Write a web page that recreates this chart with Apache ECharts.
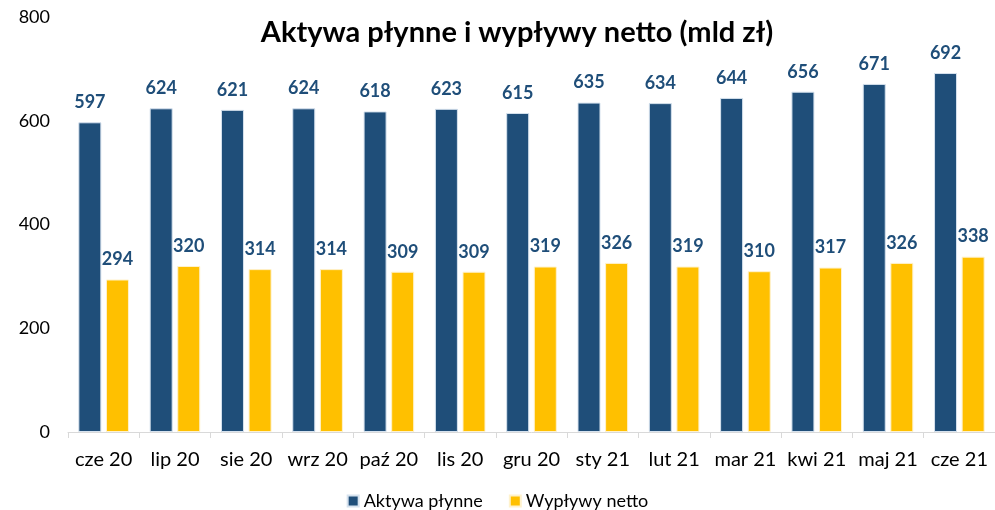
<!DOCTYPE html>
<html>
<head>
<meta charset="utf-8">
<script src="https://cdn.jsdelivr.net/npm/echarts@6/dist/echarts.min.js"></script>
<style>
  html, body { margin: 0; padding: 0; background: #fff; }
  #chart { width: 995px; height: 510px; }
</style>
</head>
<body>
<div id="chart"></div>
<script>
// Monthly liquid assets vs. net outflows, bn PLN
const months = ['cze 20', 'lip 20', 'sie 20', 'wrz 20', 'paź 20', 'lis 20', 'gru 20',
                'sty 21', 'lut 21', 'mar 21', 'kwi 21', 'maj 21', 'cze 21'];
const liquidAssets = [597, 624, 621, 624, 618, 623, 615, 635, 634, 644, 656, 671, 692];
const netOutflows = [294, 320, 314, 314, 309, 309, 319, 326, 319, 310, 317, 326, 338];
const seriesNames = ['Aktywa płynne', 'Wypływy netto'];
const titleText = 'Aktywa płynne i wypływy netto (mld zł)';

const FONT = 'Lato, "Open Sans", sans-serif';
const labelStyle = {
  show: true,
  position: 'top',
  distance: 11,
  color: '#1F4E79',
  fontWeight: 'bold',
  fontSize: 18,
  fontFamily: FONT
};

const chart = echarts.init(document.getElementById('chart'), null, { renderer: 'canvas' });
chart.setOption({
  animation: false,
  textStyle: { fontFamily: FONT },
  title: {
    text: titleText,
    left: 512,
    textAlign: 'center',
    top: 13,
    textStyle: { fontSize: 29, fontWeight: 'bold', color: '#000', fontFamily: FONT }
  },
  legend: {
    bottom: -5,
    left: 'center',
    itemWidth: 11,
    itemHeight: 11,
    itemGap: 26,
    icon: 'rect',
    textStyle: { fontSize: 18, color: '#000', fontFamily: FONT },
    data: seriesNames
  },
  grid: { left: 68, right: -2, top: 17, bottom: 78, containLabel: false },
  xAxis: {
    type: 'category',
    data: months,
    axisLine: { lineStyle: { color: '#D9D9D9', width: 1 } },
    axisTick: { show: true, length: 6, lineStyle: { color: '#D9D9D9' } },
    axisLabel: { interval: 0, fontSize: 20, color: '#000', margin: 18, fontFamily: FONT }
  },
  yAxis: {
    type: 'value',
    min: 0,
    max: 800,
    interval: 200,
    axisLine: { show: false },
    axisTick: { show: false },
    splitLine: { show: false },
    axisLabel: { fontSize: 18, color: '#000', margin: 18, fontFamily: FONT }
  },
  series: [
    {
      name: seriesNames[0],
      type: 'bar',
      data: liquidAssets,
      barWidth: 23,
      barGap: '20%',
      itemStyle: { color: '#1F4E79', borderColor: '#D6E2EE', borderWidth: 1 },
      label: labelStyle
    },
    {
      name: seriesNames[1],
      type: 'bar',
      data: netOutflows,
      barWidth: 23,
      barGap: '20%',
      itemStyle: { color: '#FFC000', borderColor: '#FFF2CC', borderWidth: 1 },
      label: labelStyle
    }
  ]
});
</script>
</body>
</html>
